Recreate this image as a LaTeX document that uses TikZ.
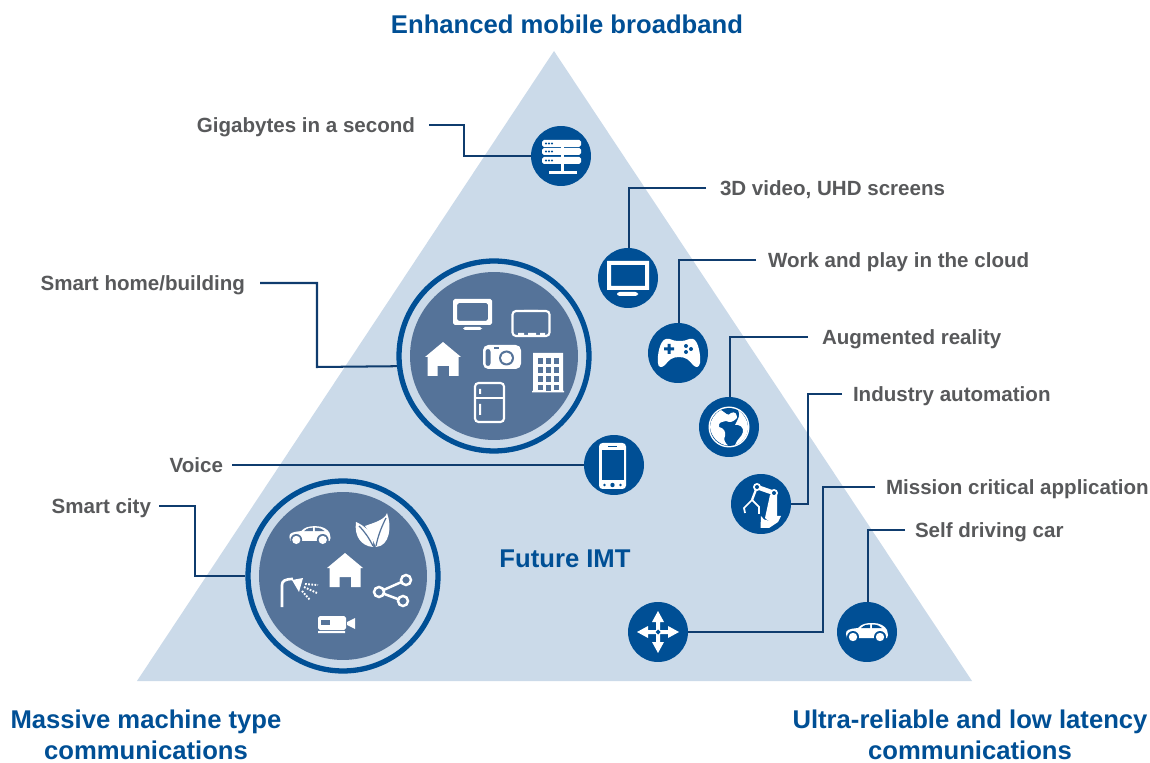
\documentclass[tikz,border=0pt]{standalone}
\usepackage{fontspec}
\setmainfont{Liberation Sans}
\usepackage{tikz}
\usetikzlibrary{positioning}
\definecolor{imtblue}{HTML}{004F95}
\definecolor{imtpale}{HTML}{CBDAE9}
\definecolor{imtdisk}{HTML}{557399}
\definecolor{imtline}{HTML}{0F3C6E}
\definecolor{imtgray}{HTML}{58595B}
\tikzset{
x=0.02cm, % one unit is one pixel of the reference
y=-0.02cm,
every node/.style={inner sep=0pt},
iconbg/.style={circle, fill=imtblue, minimum size=1.2cm}, % small round badge
bigring/.style={circle, draw=imtblue, line width=3pt, fill=imtpale, minimum size=3.8cm},
bigdisk/.style={circle, fill=imtdisk, minimum size=3.36cm},
leader/.style={draw=imtline, line width=1.15pt},
lbl/.style={font=\bfseries\fontsize{11.7}{14}\selectfont, text=imtgray, text height=9pt, text depth=1pt},
title/.style={font=\bfseries\fontsize{14.6}{17.6}\selectfont, text=imtblue, align=center},
whiteline/.style={draw=white, line width=1.2pt, fill=none},
pics/house/.style={code={
    \fill[white] (0,-17) -- (18,-2) -- (15.5,-2) -- (15.5,17) -- (6,17) -- (6,7) -- (-5.5,7) -- (-5.5,17) -- (-15.5,17) -- (-15.5,-2) -- (-18,-2) -- cycle;
}},
pics/car/.style={code={
    \fill[white] (-21,2) .. controls (-21,-2) and (-19,-3) .. (-9,-4) .. controls (-5,-8) and (-2,-9) .. (6,-9) .. controls (13,-9) and (18,-6) .. (20,-2) -- (21,3) -- (20,6) -- (-20,6) -- cycle;
    \fill[#1] (-6,-4) .. controls (-3,-7) and (0,-7.5) .. (3,-7.5) -- (3,-4) -- cycle (5,-7.5) .. controls (10,-7.5) and (13,-6) .. (15,-4) -- (5,-4) -- cycle;
    \foreach \wx in {-14,13} {\fill[#1] (\wx,5) circle (6); \fill[white] (\wx,5) circle (4.2);}
}},
pics/car/.default=imtblue,
pics/server/.style={code={
    \foreach \ry in {-16,-8,1} {
        \fill[white, rounded corners=1pt] (-19,\ry) rectangle (20,\ry+7);
        \foreach \dx in {-15,-12,-9} \fill[imtblue] (\dx,\ry+3.5) circle (1.1);
    }
    \fill[white] (-0.5,-16) rectangle (3,16);
    \fill[white] (-12.5,15) rectangle (15.5,18);
}},
pics/monitor/.style={code={
    \fill[white, even odd rule] (-21,-17) rectangle (21,12) (-17,-13) rectangle (17,8);
    \fill[white, rounded corners=1.5pt] (-11,14) rectangle (10,18);
}},
pics/gamepad/.style={code={
    \fill[white] (-12,-14) .. controls (-7,-15) and (-6,-12) .. (0,-12) -- (3,-12) .. controls (9,-12) and (10,-15) .. (15,-14) .. controls (20,-13) and (23,2) .. (22,10) .. controls (21,15) and (18,15) .. (15,12) .. controls (11,7) and (8,4) .. (1,4) .. controls (-6,4) and (-9,7) .. (-13,12) .. controls (-16,15) and (-20,15) .. (-20,10) .. controls (-21,2) and (-18,-13) .. (-12,-14) -- cycle;
    \fill[imtblue] (-10.5,-9) rectangle (-7.5,1) (-14,-5.5) rectangle (-4,-2.5);
    \foreach \gx/\gy in {8/-7,13/-4,8/-1} \fill[imtblue] (\gx,\gy) circle (2);
}},
pics/globe/.style={code={
    \fill[white] (0,0) circle (20.5);
    \fill[imtblue] (0,0) circle (19);
    \fill[white] (-8,-17) .. controls (-3,-14) and (-1,-10) .. (2,-14) .. controls (6,-16) and (8,-13) .. (8,-9) .. controls (4,-5) and (1,-4) .. (-3,-6) .. controls (-7,-5) and (-11,-5) .. (-10,0) .. controls (-5,1) and (-3,5) .. (-4,9) .. controls (-6,12) and (-4,16) .. (-1,18.5) .. controls (-10,18) and (-18,10) .. (-19,0) .. controls (-19,-7) and (-14,-14) .. (-8,-17) -- cycle;
    \fill[white] (9,-17) .. controls (15,-13) and (19,-6) .. (19,0) .. controls (19,9) and (13,16) .. (6,18) .. controls (8,12) and (13,10) .. (14,5) .. controls (15,0) and (10,-3) .. (6,-2) .. controls (9,-8) and (12,-12) .. (9,-17) -- cycle;
}},
pics/robot/.style={code={
    \fill[white] (-0.5,24) -- (0,12) .. controls (3,18) and (10,18) .. (14,12) -- (20,12) -- (17,18) -- (8,24) -- cycle;
    \fill[white] (4,14) -- (9,-9) -- (16,-9) -- (16,14) .. controls (12,18) and (7,18) .. (4,14) -- cycle;
    \draw[white, line width=2.6pt] (13,-11) -- (-4,-17);
    \draw[white, line width=1.3pt] (-4,-17) -- (-9,-4);
    \draw[white, line width=1pt] (-9,-4) -- (-17,4) -- (-16,9) (-9,-4) -- (-2,3) -- (-2,10);
    \fill[white] (13,-11) circle (4) (-4,-17) circle (4);
    \fill[imtblue] (13,-11) circle (2) (-4,-17) circle (2);
}},
pics/phone/.style={code={
    \fill[white, rounded corners=2pt] (-15,-22) rectangle (12,24);
    \fill[imtblue] (-12.5,-15) rectangle (9.5,15);
    \fill[imtblue] (-6,-19) rectangle (3,-18);
    \fill[imtblue] (-1.5,20) circle (2.2) (-9.5,20) circle (1.3) (6.5,20) circle (1.3);
}},
pics/fourway/.style={code={
    \fill[white] (0,-21) -- (6,-10) -- (2,-10) -- (2,-2) -- (10,-2) -- (10,-6) -- (21,0) -- (10,6) -- (10,2) -- (2,2) -- (2,10) -- (6,10) -- (0,21) -- (-6,10) -- (-2,10) -- (-2,2) -- (-10,2) -- (-10,6) -- (-21,0) -- (-10,-6) -- (-10,-2) -- (-2,-2) -- (-2,-10) -- (-6,-10) -- cycle;
    \fill[imtblue] (0,-2.5) -- (2.5,0) -- (0,2.5) -- (-2.5,0) -- cycle;
}},
}

\begin{document}
\begin{tikzpicture}
    \useasboundingbox (0,0) rectangle (1150,763);
    \fill[imtpale] (554,51) -- (972,681) -- (137,681) -- cycle;

    % small badges
    \node[iconbg] (server) at (561,156) {};
    \node[iconbg] (monitor) at (628,278) {};
    \node[iconbg] (gamepad) at (678,353) {};
    \node[iconbg] (globe) at (729,427) {};
    \node[iconbg] (robot) at (761,504) {};
    \node[iconbg] (phone) at (614,465) {};
    \node[iconbg] (fourway) at (658,632) {};
    \node[iconbg] (car) at (867,632) {};
    \pic at (server) {server};
    \pic at (monitor) {monitor};
    \pic at (gamepad) {gamepad};
    \pic at (globe) {globe};
    \pic at (robot) {robot};
    \pic at (phone) {phone};
    \pic at (fourway) {fourway};
    \pic at (car) {car};

    % the two large groups
    \node[bigring] (home) at (494,356) {};
    \node[bigdisk] (homedisk) at (home) {};
    \node[bigring] (city) at (343,576) {};
    \node[bigdisk] (citydisk) at (city) {};

    \begin{scope}[shift={(494,353)}]
        \pic at (-51,6) {house};
        \fill[white, even odd rule, rounded corners=1pt] (-41,-54) rectangle (-2,-28) (-37,-50) rectangle (-6,-32);
        \fill[white, rounded corners=1pt] (-31,-26) rectangle (-12,-23);
        \draw[whiteline, rounded corners=2pt] (18.5,-42) rectangle (55.5,-17);
        \fill[white] (30,-43) rectangle (44,-41.5) (24,-20) rectangle (30,-18) (34,-20) rectangle (42,-18) (46,-20) rectangle (51,-18);
        \fill[white, even odd rule, rounded corners=3pt] (-11,-8) rectangle (27,16);
        \fill[imtdisk, rounded corners=1.5pt] (-8.5,-4) rectangle (-3.5,13);
        \fill[imtdisk] (0,-6) rectangle (5,-4);
        \fill[imtdisk] (12.5,5) circle (7.5);
        \fill[white] (12.5,5) circle (5.5);
        \fill[white] (39,0) rectangle (69,38) (38,38) rectangle (70,39.5);
        \foreach \wx in {44,52,60} \foreach \wy in {5,14,23} \fill[imtdisk] (\wx,\wy) rectangle (\wx+4.5,\wy+6);
        \fill[imtdisk] (44,32) rectangle (48.5,37);
        \fill[imtdisk] (60,32) rectangle (64.5,37);
        \fill[imtdisk] (52,32) rectangle (56.5,38);
        \draw[whiteline, rounded corners=2pt] (-19,30) rectangle (10,69);
        \draw[whiteline] (-19,45) -- (10,45);
        \fill[white] (-15,36) rectangle (-13,41) (-15,51) rectangle (-13,62);
    \end{scope}

    \begin{scope}[shift={(city)}]
        \pic at (2,-6) {house};
        \pic[scale=0.98] at (-33,-41) {car={imtdisk}};
        % leaves
        \fill[white] (30,-29) .. controls (18,-30) and (11,-40) .. (13,-54) .. controls (22,-50) and (32,-42) .. (30,-29) -- cycle;
        \fill[white] (33,-29) .. controls (29,-38) and (26,-44) .. (22,-50) .. controls (30,-53) and (42,-56) .. (44,-63) .. controls (49,-50) and (47,-30) .. (33,-29) -- cycle;
        \draw[imtdisk, line width=0.7pt] (30,-30) .. controls (26,-38) and (22,-44) .. (16,-50);
        \draw[imtdisk, line width=0.7pt] (33,-30) .. controls (35,-40) and (38,-48) .. (43,-58);
        % lamp
        \draw[white, line width=1.5pt] (-61,31) -- (-61,9) .. controls (-61,5) and (-58,3) .. (-50,3);
        \fill[white] (-51,4) -- (-40,2) -- (-44,16) -- cycle;
        \draw[white, line width=1.1pt, dash pattern=on 1pt off 0.8pt] (-38,8) -- (-25,9);
        \draw[white, line width=1.1pt, dash pattern=on 1pt off 0.8pt] (-39,11) -- (-26,17);
        \draw[white, line width=1.1pt, dash pattern=on 1pt off 0.8pt] (-41,15) -- (-33,24);
        % share
        \draw[white, line width=1.4pt] (63,4) -- (36,16) -- (60,25);
        \foreach \sx/\sy in {36/16,63/4,60/25} {\fill[imtdisk] (\sx,\sy) circle (5); \draw[white, line width=1.4pt] (\sx,\sy) circle (5);}
        % camcorder
        \fill[white, rounded corners=1pt] (-25,40) rectangle (3,54);
        \fill[white] (-25,55) rectangle (2,57) (4,46) -- (12,42) -- (12,53) -- (4,49) -- cycle;
        \fill[imtdisk] (-22,44) rectangle (-13,49);
    \end{scope}

    % labels
    \node[lbl, anchor=east, outer xsep=0.28cm] (giga) at (429,125) {Gigabytes in a second};
    \node[lbl, anchor=west, outer xsep=0.28cm] (uhd) at (706,188) {3D video, UHD screens};
    \node[lbl, anchor=west, outer xsep=0.24cm] (cloud) at (756,260) {Work and play in the cloud};
    \node[lbl, anchor=west, outer xsep=0.28cm] (ar) at (808,337) {Augmented reality};
    \node[lbl, anchor=west, outer xsep=0.22cm] (auto) at (842,394) {Industry automation};
    \node[lbl, anchor=west, outer xsep=0.22cm] (mission) at (875,487) {Mission critical application};
    \node[lbl, anchor=west, outer xsep=0.2cm] (selfdrive) at (905,530) {Self driving car};
    \node[lbl, anchor=east, outer xsep=0.3cm] (smarthome) at (260,283) {Smart home/building};
    \node[lbl, anchor=east, outer xsep=0.18cm] (voice) at (232,465) {Voice};
    \node[lbl, anchor=east, outer xsep=0.16cm] (smartcity) at (159,506) {Smart city};

    \node[title] (embb) at (567,24) {Enhanced mobile broadband};
    \node[title] (mmtc) at (146,735) {Massive machine type\\communications};
    \node[title] (urllc) at (970,735) {Ultra-reliable and low latency\\communications};
    \node[title] (imt) at (565,559) {Future IMT};

    % bends of the leaders
    \coordinate (kgiga) at (464,156);
    \coordinate (kuhd) at (629,188);
    \coordinate (kcloud) at (679,260);
    \coordinate (kar) at (730,337);
    \coordinate (kauto) at (808,504);
    \coordinate (kmission) at (823,632);
    \coordinate (kself) at (868,530);
    \coordinate (khome) at (317,367);
    \coordinate (kcity) at (195,576);

    \draw[leader] (giga) -| (kgiga) -- (server);
    \draw[leader] (uhd) -- (kuhd) -- (kuhd |- monitor.north);
    \draw[leader] (cloud) -- (kcloud) -- (kcloud |- gamepad.north);
    \draw[leader] (ar) -- (kar) -- (kar |- globe.north);
    \draw[leader] (auto) -| (kauto) -- (robot);
    \draw[leader] (mission) -| (kmission) -- (fourway);
    \draw[leader] (selfdrive) -- (kself) -- (kself |- car.north);
    \draw[leader] (smarthome) -| (khome) -- (home.186.5);
    \draw[leader] (voice) -- (phone);
    \draw[leader] (smartcity) -| (kcity) -- (city);
\end{tikzpicture}
\end{document}
